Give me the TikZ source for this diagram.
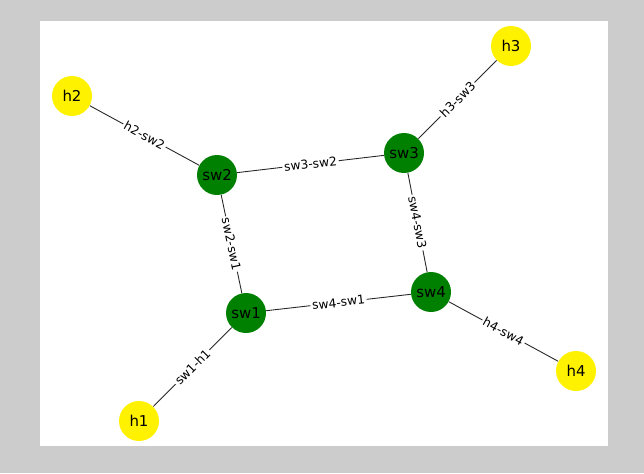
\documentclass[tikz,border=0pt]{standalone}
\usepackage{fontspec}
\setmainfont{DejaVu Sans}
\tikzset{
  sw/.style={circle, fill=green!50!black, minimum size=0.8cm, inner sep=0pt, font=\fontsize{8.5}{9}\selectfont},
  host/.style={circle, fill=yellow, minimum size=0.8cm, inner sep=0pt, font=\fontsize{8.5}{9}\selectfont},
  link/.style={draw=black!85, line width=0.5pt},
  lbl/.style={fill=white, sloped, inner sep=1pt, font=\fontsize{7}{8}\selectfont}
}
\begin{document}
\begin{tikzpicture}[x=0.02cm, y=-0.02cm]
  \fill[black!20] (0,0) rectangle (644,473);
  \fill[white] (40,21) rectangle (608,446);
  % nodes
  \node[host] (h2) at (72,96) {h2};
  \node[sw] (sw2) at (217,175) {sw2};
  \node[sw] (sw3) at (404,153) {sw3};
  \node[host] (h3) at (511,46) {h3};
  \node[sw] (sw1) at (246,313) {sw1};
  \node[sw] (sw4) at (431,292) {sw4};
  \node[host] (h4) at (576,371) {h4};
  \node[host] (h1) at (139,421) {h1};
  % links
  \path[link] (h2) -- node[lbl] {h2-sw2} (sw2);
  \path[link] (sw2) -- node[lbl] {sw3-sw2} (sw3);
  \path[link] (sw3) -- node[lbl] {h3-sw3} (h3);
  \path[link] (sw2) -- node[lbl] {sw2-sw1} (sw1);
  \path[link] (sw3) -- node[lbl] {sw4-sw3} (sw4);
  \path[link] (sw1) -- node[lbl] {sw4-sw1} (sw4);
  \path[link] (sw4) -- node[lbl] {h4-sw4} (h4);
  \path[link] (h1) -- node[lbl] {sw1-h1} (sw1);
\end{tikzpicture}
\end{document}
